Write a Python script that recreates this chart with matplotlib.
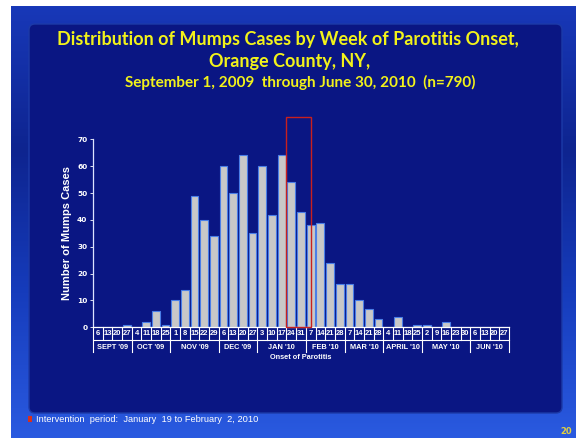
import numpy as np
import matplotlib
matplotlib.use('Agg')
import matplotlib.pyplot as plt
from matplotlib.patches import Rectangle, FancyBboxPatch
from matplotlib.transforms import blended_transform_factory

# Week-of-onset data
months = ["SEPT '09", "OCT '09", "NOV '09", "DEC '09", "JAN '10",
          "FEB '10", "MAR '10", "APRIL '10", "MAY '10", "JUN '10"]
week_days = [[6, 13, 20, 27], [4, 11, 18, 25], [1, 8, 15, 22, 29], [6, 13, 20, 27],
             [3, 10, 17, 24, 31], [7, 14, 21, 28], [7, 14, 21, 28], [4, 11, 18, 25],
             [2, 9, 16, 23, 30], [6, 13, 20, 27]]
cases = [0, 0, 0, 1,
         0, 2, 6, 1,
         10, 14, 49, 40, 34,
         60, 50, 64, 35,
         60, 42, 64, 54, 43,
         38, 39, 24, 16,
         16, 10, 7, 3,
         0, 4, 0, 1,
         1, 0, 2, 0, 0,
         0, 0, 0, 0]
intervention = (19.4, 22.0)  # bar index span of the red box

W, H = 576, 438
fig = plt.figure(figsize=(W / 100, H / 100), dpi=100)
fig.patch.set_facecolor('white')


def fx(px):
    return px / W


def fy(py):
    return 1 - py / H


# slide background
bg = fig.add_axes([0, 0, 1, 1])
bg.set_xlim(0, W)
bg.set_ylim(H, 0)
bg.axis('off')
grad = np.linspace(0, 1, 200).reshape(-1, 1)
bg.imshow(grad, extent=(11, W, H, 6), cmap=matplotlib.colors.LinearSegmentedColormap.from_list(
    'slide', ['#1838b8', '#0e248f', '#163cbc', '#2a5ae0']), aspect='auto', zorder=0)
bg.add_patch(FancyBboxPatch((29, 24), 533, 389, boxstyle='round,pad=0,rounding_size=6',
                            facecolor='#0a1683', edgecolor='#1c3aa8', linewidth=1, zorder=1))

# titles
yellow = '#f2f21a'
fig.text(fx(288), fy(39), 'Distribution of Mumps Cases by Week of Parotitis Onset,',
         color=yellow, fontsize=13, fontweight='bold', family='Lato', ha='center', va='center')
fig.text(fx(290), fy(61), 'Orange County, NY,',
         color=yellow, fontsize=13, fontweight='bold', family='Lato', ha='center', va='center')
fig.text(fx(300), fy(82), 'September 1, 2009  through June 30, 2010  (n=790)',
         color=yellow, fontsize=11, fontweight='bold', family='Lato', ha='center', va='center')

# chart
ax = fig.add_axes([fx(93), fy(327.3), fx(509) - fx(93), (327.3 - 139.3) / H])
ax.set_facecolor('none')
x = np.arange(len(cases))
ax.bar(x, cases, width=0.8, color='#c8c8c8', edgecolor='#4a7ee8', linewidth=0.8, zorder=2)
ax.set_xlim(-0.5, len(cases) - 0.5)
ax.set_ylim(0, 70)
ax.set_yticks(range(0, 71, 10))
ax.tick_params(axis='y', colors='white', labelsize=5.3, length=2, width=0.6, pad=2)
for lab in ax.get_yticklabels():
    lab.set_fontweight('bold')
ax.set_xticks([])
for s in ['top', 'right']:
    ax.spines[s].set_visible(False)
ax.spines['left'].set_color('#dde4ff')
ax.spines['bottom'].set_color('white')
ax.spines['left'].set_linewidth(0.9)
ax.spines['bottom'].set_linewidth(0.9)
ax.set_ylabel('Number of Mumps Cases', color='white', fontsize=8, fontweight='bold',
              family='Liberation Sans', va='center')
ax.yaxis.set_label_coords(-26 / 416, 0.5)

# week cells, month separators and labels under the axis
tr = blended_transform_factory(ax.transData, ax.transAxes)
px_ax = 1 / 188.0
cell_bot = -12.5 * px_ax
sep_bot = -25 * px_ax
ax.plot([-0.5, len(cases) - 0.5], [cell_bot, cell_bot], transform=tr, color='white',
        lw=0.8, clip_on=False)
i = 0
for m, days in zip(months, week_days):
    start = i
    ax.plot([start - 0.5, start - 0.5], [0, sep_bot], transform=tr, color='white', lw=0.8, clip_on=False)
    for d in days:
        if i > start:
            ax.plot([i - 0.5, i - 0.5], [0, cell_bot], transform=tr, color='white', lw=0.8, clip_on=False)
        ax.text(i, -6.5 * px_ax, str(d), transform=tr, color='white', fontsize=5.5,
                fontweight='bold', ha='center', va='center', family='Liberation Sans')
        i += 1
    ax.text((start + i - 1) / 2, -20 * px_ax, m, transform=tr, color='white', fontsize=5.3,
            fontweight='bold', ha='center', va='center', family='Liberation Sans')
ax.plot([i - 0.5, i - 0.5], [0, sep_bot], transform=tr, color='white', lw=0.8, clip_on=False)
ax.text(0.5, -30 * px_ax, 'Onset of Parotitis', transform=ax.transAxes, color='white',
        fontsize=5.3, fontweight='bold', ha='center', va='center', family='Liberation Sans')

# intervention box
ax.add_patch(Rectangle((intervention[0], 0), intervention[1] - intervention[0], 78.4,
                       fill=False, edgecolor='#c8201e', linewidth=1.0, clip_on=False, zorder=3))

# footer
bg.add_patch(Rectangle((28, 415.5), 4, 6, facecolor='#d8301e', edgecolor='none', zorder=2))
bg.text(36, 419, 'Intervention  period:  January  19 to February  2, 2010', color='white',
        fontsize=6.7, ha='left', va='center', family='Liberation Sans', zorder=2)
bg.text(566, 432, '20', color='#e0d040', fontsize=6, fontweight='bold', ha='center',
        va='center', zorder=2)

fig.savefig('out.png', dpi=100)
